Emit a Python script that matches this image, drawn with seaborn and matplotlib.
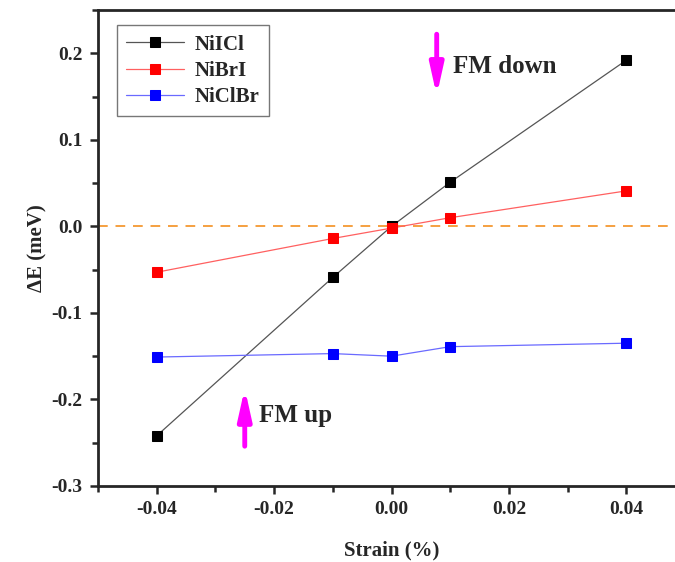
import matplotlib
matplotlib.use('Agg')
import matplotlib.pyplot as plt
import seaborn as sns
import pandas as pd
from matplotlib.ticker import MultipleLocator

strain = [-0.04, -0.01, 0.0, 0.01, 0.04]
niicl = [-0.242, -0.059, 0.0, 0.051, 0.192]
nibri = [-0.053, -0.014, -0.002, 0.010, 0.041]
niclbr = [-0.151, -0.147, -0.150, -0.139, -0.135]

series_names = ['NiICl', 'NiBrI', 'NiClBr']
marker_colors = {'NiICl': 'black', 'NiBrI': 'red', 'NiClBr': 'blue'}
line_colors = {'NiICl': '#555555', 'NiBrI': '#ff6060', 'NiClBr': '#6a6aff'}

df = pd.DataFrame({
    'strain': strain * 3,
    'dE': niicl + nibri + niclbr,
    'material': [n for n in series_names for _ in strain],
})

sns.set_style('ticks')
plt.rcParams['font.family'] = ['Liberation Serif', 'DejaVu Serif']
plt.rcParams['font.weight'] = 'bold'

fig = plt.figure(figsize=(6.75, 5.62), dpi=100)
ax = fig.add_axes([98 / 675, 1 - 486 / 562, 587 / 675, 476 / 562])

ax.axhline(0, color='#f5a040', linestyle='--', linewidth=1.4, dashes=(5, 4), zorder=1)

sns.lineplot(data=df, x='strain', y='dE', hue='material', palette=marker_colors,
             marker='s', markersize=7, linewidth=0.9, ax=ax, zorder=3, legend=False)

# lighter connecting lines, solid markers
for line, name in zip(ax.lines[1:], series_names):
    line.set_color(line_colors[name])
    line.set_markerfacecolor(marker_colors[name])
    line.set_markeredgecolor(marker_colors[name])
    line.set_label(name)

ax.set_xlim(-0.05, 0.05)
ax.set_ylim(-0.3, 0.25)
ax.set_xticks([-0.04, -0.02, 0.0, 0.02, 0.04])
ax.set_yticks([-0.3, -0.2, -0.1, 0.0, 0.1, 0.2])
ax.xaxis.set_minor_locator(MultipleLocator(0.01))
ax.yaxis.set_minor_locator(MultipleLocator(0.05))
ax.set_xticklabels(['-0.04', '-0.02', '0.00', '0.02', '0.04'])
ax.set_yticklabels(['-0.3', '-0.2', '-0.1', '0.0', '0.1', '0.2'])
ax.tick_params(which='major', direction='out', length=6, width=1.8, labelsize=14, pad=5)
ax.tick_params(which='minor', direction='out', length=4, width=1.8)
for s in ax.spines.values():
    s.set_linewidth(2)
for lbl in ax.get_xticklabels() + ax.get_yticklabels():
    lbl.set_fontweight('bold')

ax.set_xlabel('Strain (%)', fontsize=15, fontweight='bold', labelpad=16)
ax.set_ylabel('ΔE (meV)', fontsize=15, fontweight='bold', labelpad=3)

arrow_style = dict(arrowstyle='-|>,head_width=0.4,head_length=1.8',
                   color='magenta', lw=3.5, shrinkA=0, shrinkB=0)
ax.annotate('', xy=(0.0077, 0.151), xytext=(0.0077, 0.222), arrowprops=arrow_style)
ax.annotate('', xy=(-0.025, -0.187), xytext=(-0.025, -0.254), arrowprops=arrow_style)
ax.text(0.0104, 0.185, 'FM down', fontsize=18, fontweight='bold', va='center')
ax.text(-0.0225, -0.219, 'FM up', fontsize=18, fontweight='bold', va='center')

leg = ax.legend(loc='upper left', bbox_to_anchor=(0.032, 0.968), borderaxespad=0,
                fontsize=15, frameon=True, fancybox=False, edgecolor='#555555',
                handlelength=2.8, borderpad=0.45, labelspacing=0.3, handletextpad=0.5)
leg.get_frame().set_linewidth(1)
for t in leg.get_texts():
    t.set_fontweight('bold')

fig.savefig('out.png', dpi=100)
